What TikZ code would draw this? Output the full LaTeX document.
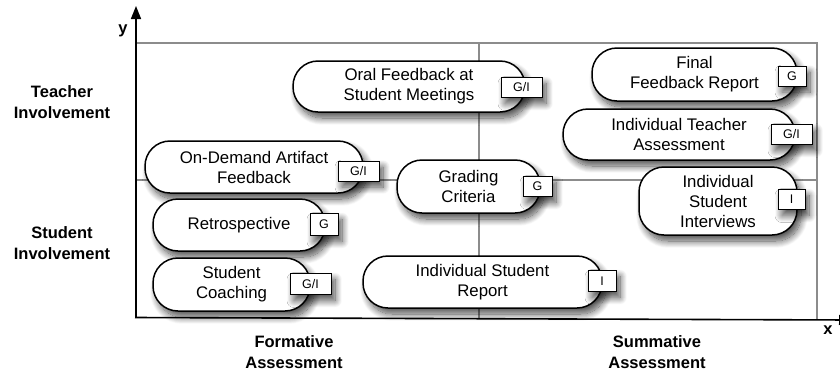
\documentclass[tikz,border=0pt]{standalone}
\usepackage{fontspec}
\setmainfont{Liberation Sans}
\usetikzlibrary{shadows.blur,arrows.meta}
\begin{document}
\begin{tikzpicture}[x=1pt,y=-1pt,
  grid/.style={draw=black!45, line width=1.3pt},
  axis/.style={draw=black, line width=1.6pt},
  myshadow/.style={blur shadow={shadow xshift=4pt, shadow yshift=-6pt, shadow blur radius=7pt, shadow blur steps=14, shadow opacity=70}},
  item/.style={draw=black, line width=1.5pt, fill=white, rounded corners=25pt, align=center,
    font=\fontsize{16.8}{20}\selectfont, inner sep=0pt, myshadow},
  tag/.style={draw=black, line width=0.7pt, fill=white, inner sep=0pt, minimum height=20pt,
    font=\fontsize{12.5}{14}\selectfont, myshadow},
  lab/.style={align=center, font=\fontsize{16.5}{21}\selectfont\bfseries, inner sep=0pt}
]
\useasboundingbox (0,0) rectangle (840,373);
% grid
\coordinate (tl) at (136,43);
\coordinate (tr) at (817,43);
\coordinate (br) at (817,319);
\coordinate (tm) at (479,43);
\coordinate (bm) at (479,318);
\coordinate (ml) at (136,180);
\coordinate (mr) at (817,180);
\draw[grid] (tl) -- (tr) -- (br);
\draw[grid] (tm) -- (bm);
\draw[grid] (ml) -- (mr);
% axes
\coordinate (o) at (136,318);
\coordinate (ytip) at (136,6);
\coordinate (xs) at (135,317.5);
\coordinate (xtip) at (852,320);
\draw[axis, -{Triangle[length=13pt,width=10pt]}] (o) -- (ytip);
\draw[axis, -{Triangle[length=13pt,width=10pt]}] (xs) -- (xtip);
% items
\node[item, minimum width=232pt, minimum height=51pt] (oral) at (409,86.5) {Oral Feedback at\\Student Meetings};
\node[tag, minimum width=41pt] (oralt) at (521.5,87.5) {G/I};
\node[item, minimum width=205pt, minimum height=53pt] (final) at (694.5,74.5) {Final\\Feedback Report};
\node[tag, minimum width=28pt] (finalt) at (792,76) {G};
\node[item, minimum width=232pt, minimum height=51pt] (teach) at (679,134.5) {Individual Teacher\\Assessment};
\node[tag, minimum width=41pt] (teacht) at (791.5,134.5) {G/I};
\node[item, minimum width=158pt, minimum height=68pt] (interv) at (718,201) {Individual\\Student\\Interviews};
\node[tag, minimum width=27pt] (intervt) at (791.5,199.5) {I};
\node[item, minimum width=143pt, minimum height=53pt] (grad) at (468.5,186.5) {Grading\\Criteria};
\node[tag, minimum width=29pt] (gradt) at (537.5,186.5) {G};
\node[item, minimum width=218pt, minimum height=52pt] (ondem) at (254,167) {On-Demand Artifact\\Feedback};
\node[tag, minimum width=41pt] (ondemt) at (358.5,171) {G/I};
\node[item, minimum width=172pt, minimum height=52pt] (retro) at (239,225) {Retrospective};
\node[tag, minimum width=28pt, minimum height=22pt] (retrot) at (324,224.5) {G};
\node[item, minimum width=157pt, minimum height=53pt] (coach) at (231.5,284.5) {Student\\Coaching};
\node[tag, minimum width=41pt, minimum height=21pt] (coacht) at (310.5,284) {G/I};
\node[item, minimum width=239pt, minimum height=52pt] (report) at (482.5,282) {Individual Student\\Report};
\node[tag, minimum width=28pt, minimum height=21pt] (reportt) at (602,281) {I};
% labels
\node[lab] (yl) at (123,31) {y};
\node[lab] (xl) at (828,330) {x};
\node[lab] (teachl) at (62,102) {Teacher\\Involvement};
\node[lab] (studl) at (62,243) {Student\\Involvement};
\node[lab] (forml) at (294,352) {Formative\\Assessment};
\node[lab] (summl) at (657,352) {Summative\\Assessment};
\end{tikzpicture}
\end{document}
